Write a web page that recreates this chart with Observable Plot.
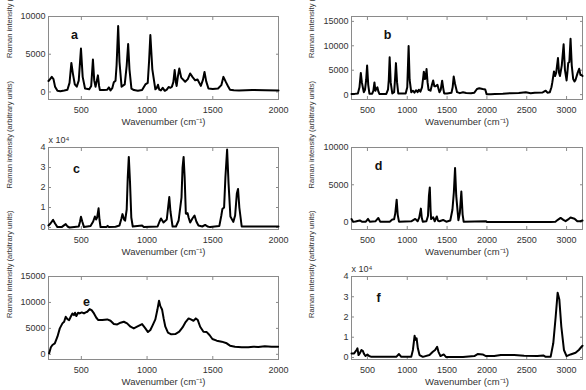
<!DOCTYPE html>
<html>
<head>
<meta charset="utf-8">
<script src="https://cdn.jsdelivr.net/npm/d3@7"></script>
<script src="https://cdn.jsdelivr.net/npm/@observablehq/plot@0.6"></script>
<style>
  html, body { margin: 0; padding: 0; background: #fff; }
  #wrap { position: relative; width: 586px; height: 390px; background: #fff; overflow: hidden; }
  #wrap > div { position: absolute; }
</style>
</head>
<body>
<div id="wrap"></div>
<script>
// ---- tick values ----
const xTicksLeft = [500, 1000, 1500, 2000];
const xTicksRight = [500, 1000, 1500, 2000, 2500, 3000];
const yTicks10k = [0, 5000, 10000];
const yTicks15k = [0, 5000, 10000, 15000];
const yTicksE4 = [0, 1, 2, 3, 4];

// ---- panel labels ----
const panelLetters = ["a", "b", "c", "d", "e", "f"];
const yTitle = "Raman intensity (arbitrary units)";
const xTitle = "Wavenumber (cm⁻¹)";
const expLabel = "x 10⁴";

// ---- spectra: [wavenumber, intensity] ----
const specA = [[250,1450],[262,1700],[275,2000],[288,1700],[300,700],[318,150],[340,100],[370,200],[394,300],[410,1200],[424,3850],[435,2500],[450,1000],[465,700],[480,1500],[497,5750],[510,2000],[528,450],[560,350],[575,800],[588,4300],[598,1500],[608,700],[626,2200],[635,800],[641,250],[670,250],[697,300],[710,600],[722,200],[735,500],[747,1300],[760,1500],[768,3500],[780,8750],[790,4000],[806,700],[830,1000],[845,3500],[856,6350],[866,3000],[881,450],[900,250],[930,150],[962,250],[987,1000],[1005,1200],[1015,4000],[1025,7550],[1040,3000],[1063,350],[1073,500],[1083,950],[1093,300],[1105,200],[1119,550],[1135,150],[1150,300],[1164,650],[1178,550],[1189,700],[1200,1300],[1210,2900],[1220,1200],[1225,800],[1234,2000],[1245,3100],[1260,1900],[1290,1350],[1310,1700],[1328,2450],[1345,2000],[1366,1550],[1384,1650],[1409,800],[1425,1600],[1437,2650],[1450,1400],[1467,450],[1500,400],[1540,450],[1565,900],[1581,2000],[1600,1300],[1615,800],[1631,300],[1660,220],[1700,200],[1800,250],[1900,230],[2000,200]];

const specB = [[300,150],[340,150],[380,250],[400,1500],[417,4450],[430,2500],[454,500],[470,1000],[484,3000],[496,5950],[510,2000],[525,200],[560,200],[575,800],[588,2500],[600,800],[612,1200],[625,1500],[638,600],[650,150],[737,150],[758,1000],[768,3000],[779,7650],[792,2500],[812,250],[835,500],[846,3000],[858,6450],[872,2500],[887,250],[980,250],[1000,1500],[1017,9950],[1030,3000],[1050,500],[1070,800],[1090,400],[1110,900],[1130,500],[1145,1000],[1165,600],[1185,1500],[1200,3500],[1208,4700],[1222,3200],[1230,3300],[1242,5250],[1255,2500],[1267,1000],[1292,800],[1310,2000],[1325,2900],[1340,1700],[1355,1700],[1379,2000],[1392,1200],[1404,500],[1420,1000],[1438,2850],[1450,1500],[1463,250],[1500,250],[1555,400],[1570,1500],[1583,3700],[1600,2200],[1625,500],[1660,300],[1700,500],[1740,350],[1800,300],[1842,400],[1875,1150],[1904,1300],[1946,1150],[1979,1050],[1996,100],[2050,100],[2100,150],[2200,200],[2300,300],[2400,350],[2488,480],[2550,300],[2600,400],[2700,450],[2738,800],[2760,400],[2790,500],[2810,1500],[2821,2500],[2842,4750],[2855,3800],[2870,4500],[2892,7500],[2905,4500],[2917,3800],[2940,6000],[2963,10300],[2980,5000],[3000,2900],[3010,4500],[3021,6500],[3035,6700],[3050,11450],[3065,6000],[3083,3200],[3100,2700],[3112,3000],[3140,4500],[3158,5300],[3175,4000],[3187,4000],[3200,3800]];

const specC = [[250,0.1],[265,0.2],[285,0.38],[300,0.2],[318,0.02],[350,0.02],[370,0.12],[381,0.17],[395,0.05],[410,0.0],[480,0.05],[490,0.3],[497,0.54],[507,0.3],[520,0.02],[570,0.08],[590,0.3],[603,0.55],[612,0.4],[620,0.5],[631,0.96],[638,0.4],[646,0.02],[690,0.02],[700,0.08],[710,0.02],[760,0.04],[790,0.1],[805,0.45],[813,0.67],[825,0.4],[833,0.34],[845,0.9],[853,2.5],[861,3.53],[870,2.3],[880,0.5],[891,0.05],[962,0.1],[975,0.02],[1080,0.05],[1095,0.3],[1106,0.45],[1125,0.25],[1150,0.4],[1160,1.0],[1169,1.52],[1178,0.8],[1194,0.05],[1220,0.05],[1240,0.35],[1262,1.5],[1270,3.0],[1278,3.53],[1286,2.5],[1295,0.7],[1302,0.68],[1308,0.72],[1316,0.5],[1328,0.25],[1345,0.45],[1361,0.6],[1375,0.3],[1391,0.1],[1420,0.05],[1442,0.13],[1460,0.05],[1480,0.02],[1550,0.08],[1565,0.6],[1573,0.92],[1586,1.0],[1596,2.5],[1609,3.9],[1620,2.2],[1634,0.55],[1656,0.28],[1670,0.6],[1683,1.7],[1692,1.93],[1702,1.0],[1720,0.05],[1800,0.05],[2000,0.05]];

const specD = [[300,400],[320,50],[350,80],[404,220],[430,50],[480,50],[508,420],[530,50],[600,100],[637,550],[660,50],[780,50],[812,350],[835,380],[850,1200],[867,3000],[880,1000],[896,50],[1050,100],[1100,420],[1130,100],[1150,600],[1171,1800],[1182,600],[1195,50],[1240,100],[1260,800],[1272,3500],[1283,4650],[1293,1500],[1300,400],[1325,650],[1345,100],[1360,500],[1371,750],[1385,200],[1404,100],[1450,280],[1490,50],[1540,200],[1567,1650],[1585,4000],[1600,7250],[1615,3500],[1642,250],[1660,1200],[1679,4100],[1695,1000],[1708,50],[1990,100],[2000,0],[2800,0],[2860,50],[2890,300],[2925,550],[2960,300],[2988,120],[3020,350],[3050,600],[3100,450],[3135,100],[3170,100],[3200,200]];

const specE = [[255,190],[268,1350],[280,1800],[298,2100],[318,3400],[336,5000],[356,5960],[369,6280],[381,7240],[394,6800],[407,6600],[419,7240],[432,7880],[444,7560],[452,8010],[462,7370],[475,8010],[487,7880],[503,8080],[520,7880],[533,8080],[545,8200],[563,8720],[578,8530],[596,7880],[614,7050],[629,6600],[659,6600],[697,6730],[722,6470],[747,5830],[773,5770],[798,6090],[823,6280],[848,5960],[874,5320],[899,5000],[924,5320],[962,5830],[987,5000],[1007,4290],[1025,4680],[1043,5640],[1063,6730],[1078,8530],[1091,10320],[1101,9290],[1114,8650],[1126,6920],[1139,5320],[1159,4170],[1184,3850],[1215,3910],[1245,4360],[1270,5190],[1290,6090],[1316,6920],[1333,6730],[1353,6470],[1371,6920],[1386,6600],[1404,5320],[1429,4360],[1454,4290],[1475,3720],[1497,2950],[1530,2630],[1568,2440],[1606,2120],[1631,1670],[1669,1470],[1720,1350],[1770,1350],[1808,1470],[1846,1410],[1896,1540],[1947,1470],[1997,1470]];

const specF = [[300,0.2],[333,0.2],[363,0.37],[375,0.45],[388,0.12],[404,0.2],[425,0.37],[442,0.33],[458,0.17],[475,0.07],[500,0.15],[521,0.07],[550,0.03],[700,0.03],[862,0.03],[896,0.17],[925,0.03],[1050,0.03],[1071,0.37],[1092,1.07],[1104,0.87],[1117,0.95],[1133,0.45],[1154,0.12],[1196,0.03],[1279,0.12],[1321,0.28],[1350,0.37],[1375,0.53],[1392,0.28],[1417,0.07],[1458,0.15],[1488,0.02],[1700,0.02],[1842,0.07],[1883,0.17],[1946,0.15],[1988,0.07],[2092,0.07],[2175,0.12],[2342,0.12],[2467,0.08],[2633,0.07],[2708,0.1],[2738,0.03],[2800,0.03],[2833,0.7],[2863,2.0],[2888,3.2],[2909,2.87],[2934,1.53],[2967,0.37],[3000,0.07],[3050,0.15],[3113,0.23],[3154,0.37],[3188,0.53],[3200,0.58]];

// ---- layout helpers ----
const FONT = "'Liberation Sans', Arial, Helvetica, sans-serif";
const FRAME = "#8a8a8a";
const TEXT = "#333";

const panels = [
  {data: specA, col: 0, row: 0, xd: [250, 2000], yd: [-1000, 10000], xt: xTicksLeft, yt: yTicks10k, letter: panelLetters[0], ldx: 26, ldy: 18, exp: false},
  {data: specB, col: 1, row: 0, xd: [300, 3200], yd: [-1000, 16000], xt: xTicksRight, yt: yTicks15k, letter: panelLetters[1], ldx: 36, ldy: 18, exp: false},
  {data: specC, col: 0, row: 1, xd: [250, 2000], yd: [-0.1, 4], xt: xTicksLeft, yt: yTicksE4, letter: panelLetters[2], ldx: 28, ldy: 21, exp: true},
  {data: specD, col: 1, row: 1, xd: [300, 3200], yd: [-1000, 10000], xt: xTicksRight, yt: yTicks10k, letter: panelLetters[3], ldx: 27, ldy: 18, exp: false},
  {data: specE, col: 0, row: 2, xd: [250, 2000], yd: [-1000, 15000], xt: xTicksLeft, yt: yTicks15k, letter: panelLetters[4], ldx: 38, ldy: 25, exp: false},
  {data: specF, col: 1, row: 2, xd: [300, 3200], yd: [-0.1, 4], xt: xTicksRight, yt: yTicksE4, letter: panelLetters[5], ldx: 27, ldy: 21, exp: true}
];

const wrap = document.getElementById("wrap");
for (const p of panels) {
  const ml = p.col === 0 ? 48 : 58;
  const mr = p.col === 0 ? 15 : 4;
  const mt = p.row === 1 ? 17 : 16;
  const fmt = d => String(d);
  const marks = [
    Plot.frame({stroke: FRAME}),
    Plot.axisX(p.xt, {anchor: "bottom", tickSize: -3, tickPadding: 10, tickFormat: fmt, stroke: FRAME, fill: TEXT, label: null}),
    Plot.axisX(p.xt, {anchor: "top", tickSize: -3, tickFormat: () => "", stroke: FRAME, label: null}),
    Plot.axisY(p.yt, {anchor: "left", tickSize: -3, tickPadding: 6, tickFormat: fmt, stroke: FRAME, fill: TEXT, label: null}),
    Plot.axisY(p.yt, {anchor: "right", tickSize: -3, tickFormat: () => "", stroke: FRAME, label: null}),
    Plot.line(p.data, {x: d => d[0], y: d => d[1], stroke: "#000", strokeWidth: 2, strokeLinejoin: "round"}),
    Plot.text([p.letter], {text: d => d, frameAnchor: "top-left", dx: p.ldx, dy: p.ldy, textAnchor: "middle", lineAnchor: "middle", fontSize: 12.5, fontWeight: "bold", fill: "#111"}),
    Plot.text([yTitle], {text: d => d, frameAnchor: "left", dx: p.col === 0 ? -39 : -40, rotate: -90, fontSize: 7.6, fill: TEXT}),
    Plot.text([xTitle], {text: d => d, frameAnchor: "bottom", dy: 25, fontSize: 9.5, fill: TEXT})
  ];
  if (p.exp) {
    marks.push(Plot.text([expLabel], {text: d => d, frameAnchor: "top-left", dy: -7, textAnchor: "start", lineAnchor: "middle", fontSize: 9, fill: TEXT}));
  }
  const chart = Plot.plot({
    width: 293,
    height: 130,
    marginLeft: ml,
    marginRight: mr,
    marginTop: mt,
    marginBottom: 31,
    x: {domain: p.xd},
    y: {domain: p.yd},
    style: {fontFamily: FONT, fontSize: "9px", color: TEXT, background: "transparent", overflow: "visible"},
    marks
  });
  const holder = document.createElement("div");
  holder.style.left = (p.col * 293) + "px";
  holder.style.top = (p.row * 130) + "px";
  holder.appendChild(chart);
  wrap.appendChild(holder);
}
</script>
</body>
</html>
